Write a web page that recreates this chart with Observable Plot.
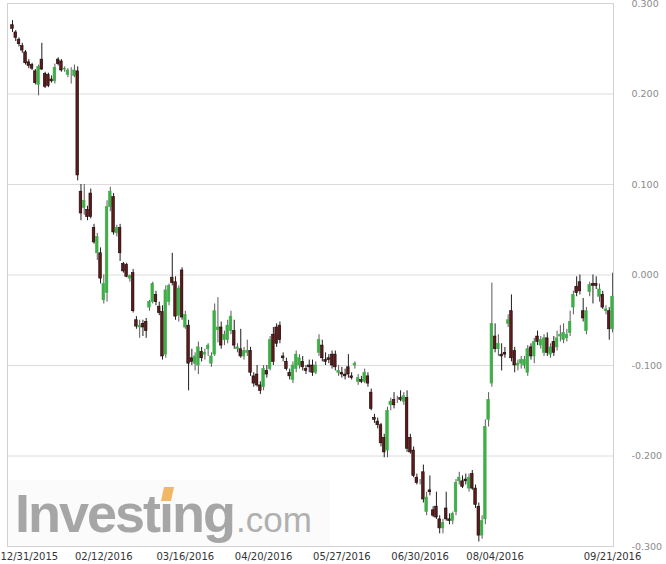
<!DOCTYPE html>
<html><head><meta charset="utf-8">
<script src="https://cdn.jsdelivr.net/npm/d3@7"></script>
<script src="https://cdn.jsdelivr.net/npm/@observablehq/plot@0.6"></script>
<style>
html,body{margin:0;padding:0;background:#fff;}
#wrap{position:relative;width:666px;height:564px;overflow:hidden;}
#wm{position:absolute;left:0;top:0;}
#chart{position:absolute;left:0;top:0;}
</style></head><body>
<div id="wrap">
<svg id="wm" width="666" height="564">
  <rect x="7" y="480" width="323" height="66" fill="#fbfbfb"/>
  <text x="15" y="532" font-family="Liberation Sans, Arial, sans-serif" font-weight="700" font-size="54" letter-spacing="-2" fill="#a6a6a6">Investıng</text>
  <polygon points="161,501 171,501 174,487 164,487" fill="#f2b766"/>
  <text x="236" y="532" font-family="Liberation Sans, Arial, sans-serif" font-size="35" fill="#b0b0b0">.com</text>
</svg>
<div id="chart"></div>
</div>
<script>
const open = [.276,.268,.260,.253,.246,.235,.232,.225,.210,.238,.222,.221,.216,.214,.238,.236,.227,.221,.222,.220,.225,
.092,.074,.072,.090,.052,.024,.024,-.028,-.020,.075,.086,.046,.052,.012,.011,-.004,.002,-.050,-.058,-.054,-.052,-.036,-.030,-.022,-.035,-.041,-.088,-.030,-.003,-.008,-.045,.005,-.058,-.056,-.092,-.098,-.100,-.085,-.088,-.082,-.098,-.088,-.061,-.058,-.072,-.072,-.062,-.062,-.082,-.082,-.090,-.086,-.084,-.112,-.110,-.122,-.124,-.106,-.104,-.066,-.058,-.056,-.090,-.096,-.108,-.116,-.104,-.100,-.096,-.104,-.100,-.100,-.108,-.086,-.078,-.094,-.092,-.088,-.088,-.108,-.108,-.110,-.102,-.112,-.100,-.118,-.116,-.118,-.112,-.130,-.158,-.162,-.166,-.180,-.194,-.144,-.138,-.138,-.136,-.140,-.136,-.180,-.194,-.224,-.230,-.218,-.262,-.238,-.260,-.256,-.270,-.280,-.258,-.270,-.272,-.262,-.228,-.228,-.226,-.236,-.220,-.236,-.256,-.288,-.270,-.160,-.120,-.068,-.082,-.088,-.086,-.054,-.040,-.084,-.100,-.098,-.100,-.108,-.080,-.090,-.068,-.078,-.086,-.070,-.088,-.074,-.080,-.068,-.072,-.070,-.064,-.036,-.013,-.008,-.040,-.062,-.019,-.010,-.010,-.024,-.022,-.040,-.040,-.060];
const high = [.281,.270,.262,.256,.248,.238,.234,.227,.232,.256,.224,.223,.220,.233,.240,.238,.230,.228,.229,.232,.230,
.100,.100,.076,.095,.056,.046,.030,.000,.082,.097,.090,.055,.056,.014,.013,.000,.006,-.046,-.050,-.050,-.048,-.028,-.008,-.018,-.030,-.034,-.012,-.010,.024,-.002,-.012,.008,-.040,-.050,-.082,-.086,-.074,-.080,-.082,-.076,-.086,-.032,-.025,-.052,-.062,-.050,-.040,-.050,-.076,-.060,-.080,-.072,-.080,-.108,-.100,-.118,-.100,-.100,-.068,-.058,-.054,-.052,-.086,-.092,-.104,-.096,-.084,-.088,-.090,-.100,-.094,-.094,-.096,-.066,-.072,-.086,-.088,-.084,-.084,-.100,-.102,-.104,-.088,-.108,-.096,-.110,-.112,-.104,-.108,-.126,-.154,-.158,-.164,-.176,-.146,-.136,-.130,-.134,-.128,-.130,-.128,-.176,-.190,-.220,-.226,-.210,-.240,-.222,-.256,-.240,-.266,-.270,-.240,-.264,-.262,-.226,-.218,-.222,-.220,-.220,-.216,-.232,-.252,-.266,-.160,-.130,-.009,-.054,-.066,-.076,-.080,-.044,-.022,-.080,-.094,-.090,-.090,-.078,-.076,-.070,-.062,-.068,-.066,-.064,-.076,-.068,-.062,-.056,-.054,-.060,-.040,-.018,-.002,.000,-.026,-.036,-.008,.000,-.002,-.010,-.018,-.034,-.036,.002];
const low = [.268,.258,.252,.245,.232,.228,.226,.210,.198,.226,.206,.207,.212,.211,.231,.224,.224,.218,.211,.218,.104,
.060,.066,.060,.062,.034,.016,-.010,-.032,-.030,.070,.044,.042,.015,.002,-.003,-.008,-.042,-.060,-.070,-.068,-.070,-.040,-.032,-.034,-.045,-.094,-.092,-.034,-.012,-.050,-.052,-.050,-.060,-.128,-.100,-.106,-.110,-.096,-.094,-.090,-.102,-.090,-.075,-.082,-.078,-.076,-.066,-.082,-.086,-.092,-.094,-.090,-.112,-.124,-.124,-.132,-.128,-.114,-.106,-.100,-.080,-.076,-.096,-.106,-.116,-.120,-.108,-.104,-.106,-.110,-.108,-.112,-.110,-.090,-.096,-.100,-.098,-.104,-.106,-.112,-.114,-.116,-.114,-.116,-.104,-.122,-.120,-.120,-.124,-.150,-.164,-.170,-.190,-.202,-.202,-.150,-.148,-.142,-.140,-.144,-.196,-.198,-.224,-.232,-.232,-.252,-.266,-.244,-.268,-.270,-.286,-.286,-.272,-.276,-.276,-.266,-.232,-.236,-.232,-.240,-.238,-.258,-.295,-.292,-.276,-.168,-.124,-.086,-.090,-.106,-.092,-.058,-.096,-.108,-.106,-.104,-.104,-.112,-.094,-.098,-.078,-.082,-.090,-.090,-.092,-.090,-.084,-.074,-.076,-.074,-.068,-.044,-.024,-.022,-.052,-.066,-.024,-.032,-.016,-.030,-.038,-.044,-.072,-.064];
const close = [.272,.262,.255,.248,.234,.231,.228,.212,.230,.227,.208,.209,.214,.229,.233,.226,.228,.226,.222,.226,.110,
.068,.082,.064,.064,.036,.042,-.004,-.010,.075,.092,.047,.052,.024,.004,-.002,-.001,-.040,-.057,-.056,-.058,-.062,-.030,-.010,-.030,-.042,-.090,-.017,-.012,-.009,-.046,-.015,-.047,-.044,-.098,-.096,-.090,-.080,-.092,-.086,-.078,-.090,-.040,-.058,-.078,-.066,-.056,-.046,-.078,-.080,-.090,-.084,-.084,-.108,-.120,-.122,-.128,-.104,-.110,-.072,-.096,-.076,-.072,-.092,-.104,-.112,-.100,-.088,-.092,-.102,-.106,-.102,-.108,-.100,-.072,-.092,-.096,-.094,-.100,-.102,-.106,-.110,-.112,-.110,-.114,-.098,-.114,-.118,-.108,-.120,-.148,-.160,-.166,-.186,-.196,-.150,-.140,-.144,-.138,-.138,-.134,-.192,-.196,-.222,-.230,-.230,-.248,-.246,-.240,-.266,-.268,-.280,-.274,-.270,-.272,-.264,-.230,-.224,-.234,-.228,-.224,-.236,-.254,-.288,-.272,-.168,-.138,-.054,-.082,-.076,-.090,-.088,-.050,-.092,-.100,-.098,-.094,-.094,-.082,-.090,-.074,-.074,-.072,-.070,-.086,-.080,-.086,-.070,-.066,-.064,-.066,-.052,-.022,-.020,-.018,-.048,-.040,-.011,-.012,-.012,-.016,-.036,-.038,-.060,-.024];

const tickIndex = [0, 28, 53, 77, 101, 125, 148, 184];
const tickLabels = ["12/31/2015","02/12/2016","03/16/2016","04/20/2016","05/27/2016","06/30/2016","08/04/2016","09/21/2016"];
const yTicks = [-0.3,-0.2,-0.1,0,0.1,0.2,0.3];

const data = open.map((o,i)=>({i, o, h:high[i], l:low[i], c:close[i], up: close[i] >= o}));
const fmtX = d => tickLabels[tickIndex.indexOf(d)];

const chart = Plot.plot({
  width: 666, height: 564,
  marginTop: 3, marginBottom: 18, marginLeft: 7, marginRight: 53,
  style: {background: "transparent", overflow: "visible", fontFamily: "DejaVu Sans, sans-serif"},
  x: {domain: [-1.53, 184.3], axis: null, label: null},
  y: {domain: [-0.3, 0.3], axis: null, label: null},
  marks: [
    Plot.ruleY(yTicks, {stroke: "#dcdcdc", strokeWidth: 1}),
    Plot.frame({stroke: "#d2d2d2"}),
    Plot.ruleX(data, {x: "i", y1: "l", y2: "h", stroke: d => d.up ? "#5a5a5a" : "#1e1e1e", strokeWidth: 1}),
    Plot.rect(data, {
      x1: d => d.i - 0.4, x2: d => d.i + 0.4,
      y1: d => Math.min(d.o, d.c), y2: d => Math.max(d.o, d.c),
      fill: d => d.up ? "#3fae49" : "#5e1b1b",
      stroke: d => d.up ? "#3fae49" : "#1a0808", strokeWidth: 0.6
    }),
    Plot.axisY({anchor: "right", ticks: yTicks, tickSize: 0, tickPadding: 18, label: null,
      tickFormat: d => d.toFixed(3), fontSize: 9.5, color: "#8a8a8a"}),
    Plot.axisX({ticks: tickIndex.slice(1), tickSize: 0, tickPadding: 6, label: null,
      tickFormat: fmtX, fontSize: 10, color: "#333"}),
    Plot.axisX({ticks: tickIndex.slice(0,1), tickSize: 0, tickPadding: 6, textAnchor: "start", dx: -12, label: null,
      tickFormat: fmtX, fontSize: 10, color: "#333"})
  ]
});
document.getElementById("chart").appendChild(chart);
</script>
</body></html>
